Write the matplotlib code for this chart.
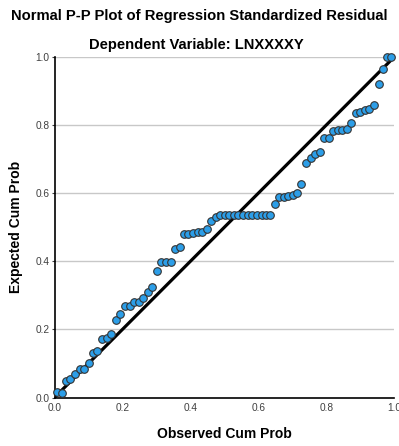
import matplotlib.pyplot as plt
import numpy as np

# observed cum prob (x) and expected cum prob (y)
obs = [0.006, 0.021, 0.033, 0.047, 0.061, 0.074, 0.088, 0.101, 0.114, 0.126,
       0.141, 0.154, 0.167, 0.181, 0.194, 0.208, 0.221, 0.235, 0.248, 0.261,
       0.274, 0.288, 0.301, 0.314, 0.329, 0.342, 0.354, 0.368, 0.380, 0.394,
       0.408, 0.421, 0.435, 0.448, 0.460, 0.474, 0.487, 0.501, 0.514, 0.528,
       0.541, 0.555, 0.569, 0.582, 0.596, 0.609, 0.623, 0.635, 0.648, 0.661,
       0.674, 0.687, 0.701, 0.714, 0.726, 0.741, 0.754, 0.767, 0.781, 0.793,
       0.807, 0.820, 0.833, 0.847, 0.860, 0.873, 0.886, 0.900, 0.913, 0.926,
       0.940, 0.954, 0.966, 0.978, 0.991]
exp = [0.015, 0.012, 0.047, 0.055, 0.070, 0.083, 0.083, 0.100, 0.130, 0.137,
       0.172, 0.175, 0.187, 0.227, 0.244, 0.269, 0.269, 0.281, 0.281, 0.292,
       0.310, 0.324, 0.372, 0.398, 0.398, 0.398, 0.436, 0.442, 0.480, 0.480,
       0.484, 0.486, 0.486, 0.494, 0.519, 0.530, 0.536, 0.536, 0.536, 0.536,
       0.536, 0.536, 0.536, 0.536, 0.536, 0.536, 0.536, 0.536, 0.568, 0.589,
       0.589, 0.590, 0.594, 0.599, 0.626, 0.689, 0.702, 0.714, 0.721, 0.761,
       0.761, 0.781, 0.785, 0.785, 0.787, 0.806, 0.834, 0.838, 0.844, 0.848,
       0.859, 0.919, 0.964, 1.000, 1.000]
ticks = [0.0, 0.2, 0.4, 0.6, 0.8, 1.0]
tick_labels = ["0.0", "0.2", "0.4", "0.6", "0.8", "1.0"]

plt.rcParams['font.family'] = ['Liberation Sans', 'DejaVu Sans']

fig = plt.figure(figsize=(3.99, 4.46), dpi=100)
ax = fig.add_axes([54.5/399, 48.5/446, 340/399, 340.8/446])

for t in ticks[1:]:
    ax.axhline(t, color='#c8c8c8', lw=1, zorder=0)

ax.plot([0, 1], [0, 1], color='black', lw=2.3, zorder=2, solid_capstyle='butt')
ax.scatter(obs, exp, s=30, facecolor='#2c9ee8', edgecolor='#333333',
           linewidth=0.8, zorder=3, clip_on=False)

ax.set_xlim(0, 1)
ax.set_ylim(0, 1)
ax.set_xticks(ticks)
ax.set_xticklabels(tick_labels)
ax.set_yticks(ticks)
ax.set_yticklabels(tick_labels)
ax.tick_params(labelsize=7.3, labelcolor='#404040', colors='#404040')
ax.tick_params(axis='y', length=2, width=0.8, pad=1.5)
ax.tick_params(axis='x', length=0, pad=4)

for s in ['top', 'right']:
    ax.spines[s].set_visible(False)
ax.spines['left'].set_linewidth(1.2)
ax.spines['bottom'].set_linewidth(1.2)

ax.set_xlabel("Observed Cum Prob", fontsize=10, fontweight='bold', labelpad=10)
ax.set_ylabel("Expected Cum Prob", fontsize=10, fontweight='bold', labelpad=9)

fig.text(0.5, 1 - 16/446, "Normal P-P Plot of Regression Standardized Residual",
         ha='center', va='center', fontsize=10.6, fontweight='bold')
fig.text(0.493, 1 - 45/446, "Dependent Variable: LNXXXXY",
         ha='center', va='center', fontsize=10.6, fontweight='bold')

fig.savefig("out.png", dpi=100)
